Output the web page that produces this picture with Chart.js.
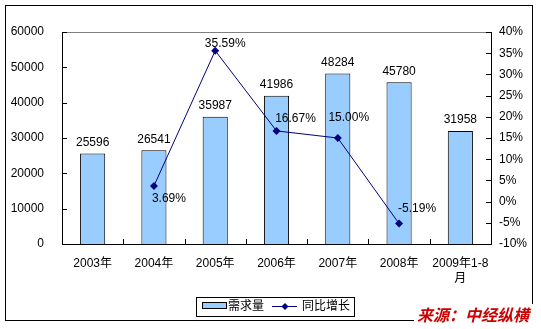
<!DOCTYPE html>
<html>
<head>
<meta charset="utf-8">
<script src="https://cdn.jsdelivr.net/npm/chart.js@4/dist/chart.umd.min.js"></script>
<style>
  body { margin: 0; background: #fff; }
  canvas { display: block; }
</style>
</head>
<body>
<canvas id="chart" width="541" height="329"></canvas>
<script>
// --- Data ---
const categories = ['2003年', '2004年', '2005年', '2006年', '2007年', '2008年', ['2009年1-8', '月']];
const demand = [25596, 26541, 35987, 41986, 48284, 45780, 31958];
const growth = [null, 3.69, 35.59, 16.67, 15.00, -5.19, null];
const leftTicks = { min: 0, max: 60000, step: 10000 };
const rightTicks = { min: -10, max: 40, step: 5 };

const FONT = '"Liberation Sans", "Noto Sans CJK SC", sans-serif';
const BAR_COLOR = '#99CCFF';
const LINE_COLOR = '#000080';

// growth labels were nudged by hand in the original
const growthLabelOffsets = [null, [15, 13], [10, -7], [19, -12], [11, -20], [18, -15], null];

const decorPlugin = {
    id: 'decor',
    afterDraw(chart) {
        const ctx = chart.ctx;
        const area = chart.chartArea;
        const x = chart.scales.x, y = chart.scales.y, y1 = chart.scales.y1;
        ctx.save();

        // top edge of the plot area
        ctx.strokeStyle = '#808080';
        ctx.lineWidth = 1;
        ctx.beginPath();
        ctx.moveTo(area.left, area.top + 0.5);
        ctx.lineTo(area.right, area.top + 0.5);
        ctx.stroke();

        // inside tick marks
        ctx.strokeStyle = '#000';
        ctx.beginPath();
        y.ticks.forEach(t => {
            const py = Math.round(y.getPixelForValue(t.value)) + 0.5;
            ctx.moveTo(area.left, py); ctx.lineTo(area.left + 5, py);
        });
        y1.ticks.forEach(t => {
            const py = Math.round(y1.getPixelForValue(t.value)) + 0.5;
            ctx.moveTo(area.right - 5, py); ctx.lineTo(area.right, py);
        });
        for (let i = 1; i < categories.length; i++) {
            const px = Math.round((x.getPixelForTick(i - 1) + x.getPixelForTick(i)) / 2) + 0.5;
            ctx.moveTo(px, area.bottom); ctx.lineTo(px, area.bottom - 5);
        }
        ctx.stroke();

        // value labels
        ctx.font = '12px ' + FONT;
        ctx.fillStyle = '#000';
        ctx.textAlign = 'center';
        ctx.textBaseline = 'middle';
        chart.getDatasetMeta(0).data.forEach((bar, i) => {
            ctx.fillText(String(demand[i]), bar.x, bar.y - 11);
        });
        chart.getDatasetMeta(1).data.forEach((pt, i) => {
            if (growth[i] === null) return;
            const off = growthLabelOffsets[i];
            ctx.fillText(growth[i].toFixed(2) + '%', pt.x + off[0], pt.y + off[1]);
        });

        // legend
        ctx.strokeStyle = '#000';
        ctx.strokeRect(196.5, 297.5, 158, 19);
        ctx.fillStyle = BAR_COLOR;
        ctx.fillRect(202, 303, 24, 6);
        ctx.strokeRect(202.5, 302.5, 24, 6);
        ctx.fillStyle = '#000';
        ctx.textAlign = 'left';
        ctx.font = '12px ' + FONT;
        ctx.fillText(chart.data.datasets[0].label, 228, 307);
        ctx.strokeStyle = LINE_COLOR;
        ctx.beginPath();
        ctx.moveTo(272, 306.5); ctx.lineTo(297, 306.5);
        ctx.stroke();
        ctx.fillStyle = LINE_COLOR;
        ctx.beginPath();
        ctx.moveTo(285, 303); ctx.lineTo(288.5, 306.5); ctx.lineTo(285, 310); ctx.lineTo(281.5, 306.5);
        ctx.closePath(); ctx.fill();
        ctx.fillStyle = '#000';
        ctx.fillText(chart.data.datasets[1].label, 302, 307);

        // outer frame
        ctx.strokeStyle = '#000';
        ctx.strokeRect(5.5, 5.5, 527, 315);

        // source note over the corner of the frame
        ctx.fillStyle = '#fff';
        ctx.fillRect(414, 304, 127, 25);
        ctx.fillStyle = '#CC0000';
        ctx.font = 'italic bold 16px "Noto Sans CJK SC", sans-serif';
        ctx.textAlign = 'left';
        ctx.fillText('来源：中经纵横', 417, 315);
        ctx.restore();
    }
};

new Chart(document.getElementById('chart'), {
    type: 'bar',
    data: {
        labels: categories,
        datasets: [{
            type: 'bar',
            label: '需求量',
            data: demand,
            backgroundColor: BAR_COLOR,
            borderColor: '#000',
            borderWidth: 1,
            barPercentage: 0.41,
            categoryPercentage: 1,
            yAxisID: 'y',
            order: 2
        }, {
            type: 'line',
            label: '同比增长',
            data: growth,
            borderColor: LINE_COLOR,
            borderWidth: 1,
            backgroundColor: LINE_COLOR,
            pointStyle: 'rectRot',
            pointRadius: 4,
            pointBorderWidth: 0,
            spanGaps: false,
            tension: 0,
            yAxisID: 'y1',
            order: 1
        }]
    },
    options: {
        responsive: false,
        animation: false,
        devicePixelRatio: 1,
        layout: { padding: { left: 0, right: 0, top: 32, bottom: 0 } },
        plugins: { legend: { display: false }, tooltip: { enabled: false } },
        scales: {
            x: {
                offset: true,
                grid: { display: false, drawTicks: false },
                border: { display: true, color: '#000', width: 1 },
                ticks: {
                    color: '#000', padding: 12, maxRotation: 0, autoSkip: false,
                    font: { family: FONT, size: 12, lineHeight: 1.25 }
                },
                afterFit(scale) { scale.height = 85; }
            },
            y: {
                position: 'left',
                min: leftTicks.min, max: leftTicks.max,
                grid: { display: false, drawTicks: false },
                border: { display: true, color: '#000', width: 1 },
                ticks: {
                    stepSize: leftTicks.step, color: '#000', padding: 18,
                    font: { family: FONT, size: 12 },
                    callback: v => String(v)
                },
                afterFit(scale) { scale.width = 62; }
            },
            y1: {
                position: 'right',
                min: rightTicks.min, max: rightTicks.max,
                grid: { display: false, drawTicks: false },
                border: { display: true, color: '#000', width: 1 },
                ticks: {
                    stepSize: rightTicks.step, color: '#000', padding: 8,
                    font: { family: FONT, size: 12 },
                    callback: v => v + '%'
                },
                afterFit(scale) { scale.width = 50; }
            }
        }
    },
    plugins: [decorPlugin]
});
</script>
</body>
</html>
